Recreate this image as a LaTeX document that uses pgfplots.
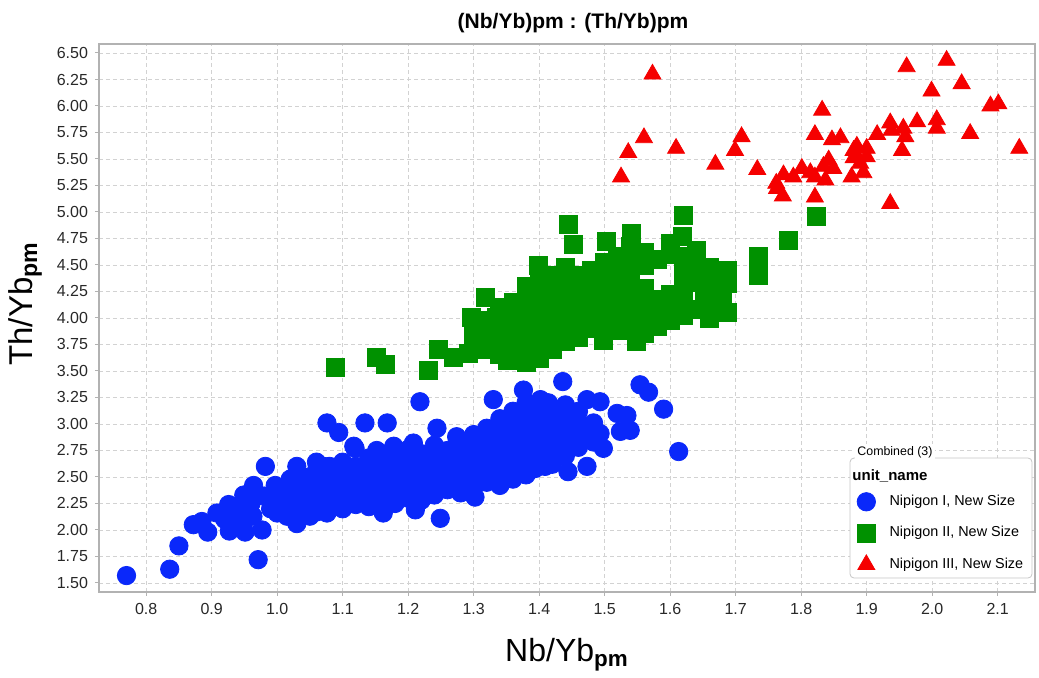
\documentclass[border=0pt]{standalone}
\usepackage{fontspec}
\setmainfont{Liberation Sans}
\usepackage{pgfplots}
\pgfplotsset{compat=1.18}
\definecolor{ptblue}{RGB}{10,40,250}
\definecolor{ptgreen}{RGB}{0,145,0}
\definecolor{ptred}{RGB}{245,0,0}
\definecolor{ticktxt}{RGB}{40,40,40}

% Nipigon I
\pgfplotstableread{
x y
0.770 1.57
0.836 1.63
0.850 1.85
0.872 2.05
0.885 2.08
0.894 1.98
0.908 2.16
0.920 2.10
0.926 2.24
0.927 1.99
0.938 2.22
0.940 2.08
0.949 2.33
0.951 1.98
0.950 2.15
0.963 2.13
0.964 2.42
0.960 2.25
0.971 1.72
0.977 2.00
0.980 2.32
0.982 2.60
0.990 2.20
0.997 2.42
1.005 2.28
1.015 2.13
1.025 2.31
1.030 2.60
1.030 2.06
1.040 2.38
1.050 2.13
1.071 2.60
1.076 3.01
1.089 2.57
1.094 2.92
1.076 2.16
1.117 2.79
1.119 2.77
1.134 3.01
1.152 2.75
1.162 2.16
1.168 3.01
1.178 2.79
1.208 2.82
1.211 2.19
1.218 3.21
1.244 2.96
1.249 2.11
1.274 2.88
1.302 2.31
1.330 3.23
1.376 3.32
1.394 2.58
1.402 3.23
1.409 2.60
1.414 3.20
1.432 2.71
1.436 3.40
1.442 3.02
1.444 2.55
1.447 3.10
1.473 3.23
1.473 2.60
1.483 3.01
1.483 2.83
1.493 3.21
1.493 2.91
1.498 2.77
1.519 3.10
1.524 2.93
1.534 3.08
1.539 2.94
1.554 3.37
1.567 3.30
1.590 3.14
1.613 2.74
1.00 2.16
1.00 2.25
1.00 2.34
1.02 2.18
1.02 2.27
1.02 2.38
1.02 2.48
1.04 2.20
1.04 2.29
1.04 2.40
1.04 2.50
1.06 2.17
1.06 2.26
1.06 2.35
1.06 2.45
1.06 2.56
1.06 2.64
1.08 2.22
1.08 2.31
1.08 2.40
1.08 2.50
1.08 2.60
1.10 2.20
1.10 2.28
1.10 2.37
1.10 2.46
1.10 2.55
1.10 2.64
1.12 2.24
1.12 2.33
1.12 2.42
1.12 2.51
1.12 2.60
1.14 2.22
1.14 2.30
1.14 2.39
1.14 2.48
1.14 2.57
1.14 2.68
1.16 2.27
1.16 2.36
1.16 2.45
1.16 2.54
1.16 2.63
1.16 2.72
1.18 2.25
1.18 2.33
1.18 2.42
1.18 2.51
1.18 2.60
1.18 2.70
1.20 2.30
1.20 2.39
1.20 2.48
1.20 2.57
1.20 2.66
1.20 2.76
1.22 2.28
1.22 2.36
1.22 2.45
1.22 2.54
1.22 2.63
1.22 2.72
1.24 2.33
1.24 2.42
1.24 2.51
1.24 2.60
1.24 2.69
1.24 2.80
1.26 2.38
1.26 2.47
1.26 2.56
1.26 2.65
1.26 2.75
1.28 2.35
1.28 2.44
1.28 2.53
1.28 2.62
1.28 2.71
1.28 2.82
1.30 2.40
1.30 2.50
1.30 2.59
1.30 2.68
1.30 2.78
1.30 2.90
1.32 2.45
1.32 2.55
1.32 2.64
1.32 2.74
1.32 2.84
1.32 2.96
1.34 2.42
1.34 2.52
1.34 2.61
1.34 2.71
1.34 2.81
1.34 2.92
1.34 3.05
1.36 2.48
1.36 2.58
1.36 2.68
1.36 2.78
1.36 2.88
1.36 3.00
1.36 3.12
1.38 2.52
1.38 2.63
1.38 2.74
1.38 2.85
1.38 2.96
1.38 3.08
1.38 3.20
1.40 2.68
1.40 2.80
1.40 2.92
1.40 3.04
1.40 3.15
1.42 2.62
1.42 2.74
1.42 2.86
1.42 2.98
1.42 3.10
1.44 2.70
1.44 2.82
1.44 2.95
1.44 3.06
1.44 3.18
1.46 2.78
1.46 2.90
1.46 3.02
1.46 3.12
1.48 2.85
1.48 2.97
}\nipone

% Nipigon II
\pgfplotstableread{
x y
1.089 3.53
1.152 3.63
1.165 3.56
1.231 3.51
1.246 3.70
1.269 3.63
1.292 3.67
1.297 4.01
1.318 4.19
1.335 4.01
1.340 3.79
1.351 3.60
1.366 3.64
1.399 4.50
1.445 4.88
1.452 4.69
1.498 3.79
1.503 4.72
1.541 4.80
1.549 3.78
1.618 4.77
1.620 4.97
1.637 4.34
1.652 4.22
1.687 4.45
1.687 4.33
1.687 4.05
1.734 4.58
1.734 4.40
1.780 4.73
1.823 4.96
1.30 3.75
1.30 3.88
1.32 3.70
1.32 3.85
1.32 3.98
1.34 3.66
1.34 3.92
1.34 4.10
1.36 3.75
1.36 3.88
1.36 4.02
1.36 4.15
1.38 3.58
1.38 3.70
1.38 3.85
1.38 4.00
1.38 4.12
1.38 4.30
1.40 3.62
1.40 3.80
1.40 3.95
1.40 4.08
1.40 4.22
1.40 4.38
1.42 3.70
1.42 3.86
1.42 4.00
1.42 4.14
1.42 4.28
1.42 4.40
1.44 3.78
1.44 3.92
1.44 4.06
1.44 4.20
1.44 4.35
1.44 4.48
1.46 3.82
1.46 3.98
1.46 4.12
1.46 4.26
1.46 4.40
1.48 3.90
1.48 4.04
1.48 4.18
1.48 4.32
1.48 4.45
1.50 3.95
1.50 4.08
1.50 4.22
1.50 4.36
1.50 4.52
1.52 3.88
1.52 4.02
1.52 4.15
1.52 4.30
1.52 4.44
1.52 4.58
1.54 3.95
1.54 4.10
1.54 4.25
1.54 4.40
1.54 4.55
1.54 4.68
1.56 3.85
1.56 4.00
1.56 4.14
1.56 4.28
1.56 4.50
1.56 4.62
1.58 3.92
1.58 4.05
1.58 4.18
1.58 4.55
1.60 3.98
1.60 4.12
1.60 4.22
1.60 4.60
1.60 4.70
1.62 4.02
1.62 4.15
1.62 4.30
1.62 4.45
1.62 4.58
1.64 4.08
1.64 4.40
1.64 4.52
1.64 4.64
1.66 4.00
1.66 4.18
1.66 4.35
1.66 4.48
1.68 4.22
1.68 4.38
}\niptwo

% Nipigon III
\pgfplotstableread{
x y
1.525 5.33
1.536 5.56
1.560 5.70
1.573 6.30
1.609 5.60
1.669 5.45
1.699 5.58
1.709 5.71
1.733 5.40
1.762 5.27
1.763 5.22
1.772 5.15
1.773 5.35
1.788 5.33
1.801 5.41
1.814 5.37
1.821 5.33
1.821 5.73
1.821 5.14
1.832 5.96
1.834 5.43
1.837 5.30
1.842 5.49
1.847 5.68
1.849 5.41
1.860 5.70
1.877 5.33
1.880 5.58
1.880 5.51
1.885 5.62
1.890 5.46
1.895 5.37
1.900 5.60
1.900 5.52
1.916 5.73
1.936 5.84
1.938 5.77
1.936 5.08
1.954 5.58
1.956 5.79
1.959 5.71
1.961 6.37
1.977 5.85
1.999 6.14
2.007 5.87
2.007 5.79
2.022 6.43
2.045 6.21
2.058 5.74
2.089 6.00
2.101 6.02
2.133 5.60
}\nipthree

\begin{document}
\begin{tikzpicture}
\begin{axis}[
  name=ax,
  scale only axis,
  width=468pt, height=274pt,
  xmin=0.728, xmax=2.157,
  ymin=1.415, ymax=6.585,
  xtick={0.8,0.9,1.0,1.1,1.2,1.3,1.4,1.5,1.6,1.7,1.8,1.9,2.0,2.1},
  ytick={1.5,1.75,2.0,2.25,2.5,2.75,3.0,3.25,3.5,3.75,4.0,4.25,4.5,4.75,5.0,5.25,5.5,5.75,6.0,6.25,6.5},
  /pgf/number format/assume math mode=true,
  xticklabel style={/pgf/number format/fixed, /pgf/number format/fixed zerofill, /pgf/number format/precision=1},
  yticklabel style={/pgf/number format/fixed, /pgf/number format/fixed zerofill, /pgf/number format/precision=2},
  tick label style={font=\fontsize{8}{9}\selectfont, text=ticktxt},
  grid=major,
  major grid style={gray!35, dash pattern=on 2pt off 1.5pt, line width=0.4pt},
  axis line style={gray!60, line width=0.9pt},
  tick style={gray!60, line width=0.5pt},
  major tick length=2pt,
  tick align=outside,
  xtick pos=bottom, ytick pos=left,
  title={(Nb/Yb)pm : (Th/Yb)pm},
  title style={font=\bfseries\fontsize{10.5}{12}\selectfont, at={(0.5,1)}, anchor=south, inner sep=0pt, yshift=-0.5pt, xshift=3pt},
  xlabel={Nb/Yb\textsubscript{\textbf{pm}}},
  ylabel={Th/Yb\textsubscript{\textbf{pm}}},
  xlabel style={font=\fontsize{16}{18}\selectfont, at={(axis description cs:0.5,-0.115)}, anchor=center},
  ylabel style={font=\fontsize{16.5}{18}\selectfont, at={(axis description cs:-0.079,0.526)}, anchor=center},
  legend cell align=left,
  legend image code/.code={\draw[#1] plot coordinates {(0pt,0pt)};},
  legend style={at={(1.0002,0.0223)}, anchor=south east, draw=none, fill=none,
    font=\fontsize{7.2}{8}\selectfont, inner xsep=3.8pt, inner ysep=2pt, row sep=5pt,
    /tikz/every odd column/.append style={column sep=5pt}},
]
\addplot[only marks, mark=*, mark size=4.6pt, color=ptblue, mark options={draw=ptblue, fill=ptblue}] table[x=x, y=y] {\nipone};
\addlegendentry{Nipigon I, New Size}
\addplot[only marks, mark=square*, mark size=4.5pt, color=ptgreen, mark options={draw=ptgreen, fill=ptgreen}] table[x=x, y=y] {\niptwo};
\addlegendentry{Nipigon II, New Size}
\addplot[only marks, mark=triangle*, mark size=4.9pt, color=ptred, mark options={draw=ptred, fill=ptred}] table[x=x, y=y] {\nipthree};
\addlegendentry{Nipigon III, New Size}
% legend frame (drawn under the legend entries)
\draw[gray!45, fill=white, rounded corners=2pt] (rel axis cs:0.8024,0.0255) rectangle (rel axis cs:0.9968,0.2445);
\coordinate (cmb) at (rel axis cs:0.8077,0.2555);
\coordinate (unm) at (rel axis cs:0.8045,0.2117);
\end{axis}
\node[anchor=west, fill=white, inner sep=1pt, font=\fontsize{6.2}{7}\selectfont] at (cmb) {Combined (3)};
\node[anchor=west, inner sep=0pt, font=\bfseries\fontsize{7.5}{8}\selectfont] at (unm) {unit\_name};
\pgfresetboundingbox
\path (ax.south west) ++(-49.5pt,-43pt) coordinate (bbA);
\path (ax.north east) ++(2pt,22pt) coordinate (bbB);
\useasboundingbox (bbA) rectangle (bbB);
\end{tikzpicture}
\end{document}
